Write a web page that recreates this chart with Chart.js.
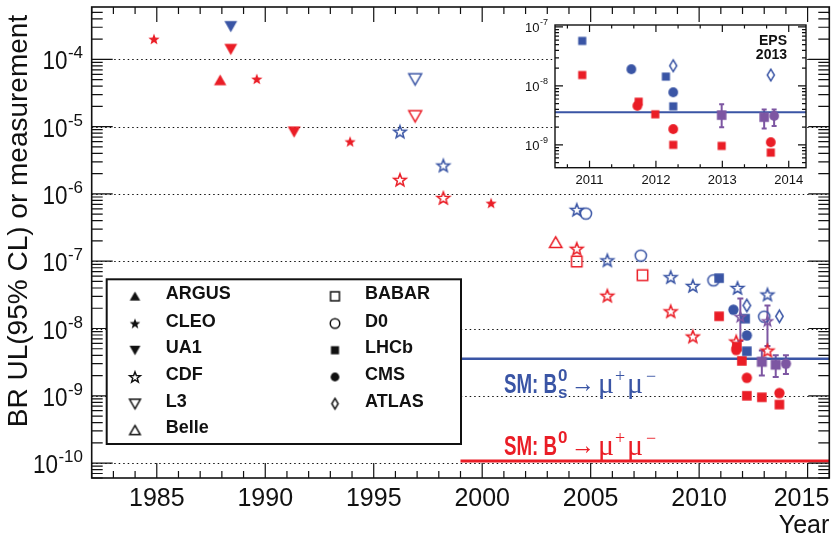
<!DOCTYPE html>
<html>
<head>
<meta charset="utf-8">
<script src="https://cdn.jsdelivr.net/npm/chart.js@4.4.0/dist/chart.umd.min.js"></script>
<style>
  html, body { margin: 0; padding: 0; background: #fff; }
  #wrap { position: relative; width: 838px; height: 540px; }
  #main { position: absolute; left: 0; top: 0; }
  #inset { position: absolute; left: 500px; top: 10px; }
</style>
</head>
<body>
<div id="wrap">
  <canvas id="main" width="838" height="540" style="width:838px;height:540px"></canvas>
  <canvas id="inset" width="320" height="190" style="width:320px;height:190px"></canvas>
</div>
<script>
// ---- upper limits, [year, BR]; Bs -> mu mu in blue, B0 -> mu mu in red ----
const ARGUS_B0 = [[1987.92, 4.9e-5]];
const CLEO_B0 = [[1984.87, 2.0e-4], [1989.61, 5.1e-5], [1993.91, 6.0e-6], [2000.41, 7.3e-7]];
const UA1_BS = [[1988.41, 3.1e-4]];
const UA1_B0 = [[1988.41, 1.42e-4], [1991.33, 8.4e-6]];
const CDF_BS = [[1996.21, 8.4e-6], [1998.21, 2.64e-6], [2004.36, 5.8e-7], [2005.77, 1.03e-7],
                [2008.69, 5.8e-8], [2009.71, 4.3e-8], [2011.77, 4.0e-8], [2013.15, 3.2e-8]];
const CDF_B0 = [[1996.21, 1.62e-6], [1998.21, 8.7e-7], [2004.36, 1.53e-7], [2005.77, 3.07e-8],
                [2008.69, 1.8e-8], [2009.71, 7.6e-9], [2011.71, 6.4e-9], [2013.15, 4.7e-9]];
const L3_BS = [[1996.91, 5.1e-5]];
const L3_B0 = [[1996.91, 1.44e-5]];
const BELLE_B0 = [[2003.39, 1.9e-7]];
const BABAR_B0 = [[2004.36, 9.9e-8], [2007.39, 6.2e-8]];
const D0_BS = [[2004.78, 5.1e-7], [2007.31, 1.21e-7], [2010.66, 5.2e-8], [2013.0, 1.5e-8]];
const LHCB_BS = [[2010.92, 5.6e-8], [2012.12, 1.4e-8], [2012.2, 4.6e-9]];
const LHCB_B0 = [[2010.92, 1.52e-8], [2011.74, 5.4e-9], [2011.97, 3.3e-9], [2012.2, 1.0e-9],
                 [2012.89, 9.5e-10], [2013.7, 7.4e-10]];
const CMS_BS = [[2011.58, 1.9e-8], [2012.2, 7.9e-9]];
const CMS_B0 = [[2011.71, 4.8e-9], [2012.2, 1.85e-9], [2013.7, 1.1e-9]];
const ATLAS_BS = [[2012.2, 2.2e-8], [2013.7, 1.52e-8]];

// ---- Bs measurements, [year, central, low, high] ----
const CDF_BS_MEAS = [[2011.9, 1.5e-8, 6.5e-9, 2.8e-8], [2013.15, 1.3e-8, 5.5e-9, 2.2e-8]];
const LHCB_BS_MEAS = [[2012.89, 3.2e-9, 2.0e-9, 4.7e-9], [2013.53, 2.9e-9, 1.9e-9, 4.0e-9]];
const CMS_BS_MEAS = [[2014.0, 3.0e-9, 2.1e-9, 4.0e-9]];

// ---- Standard Model predictions ----
const SM_BS = 3.56e-9;
const SM_B0 = 1.07e-10;
const SM_FROM = 1999;

// ---- inset: LHC era close-up ----
const IN_LHCB_BS = [[2010.89, 5.8e-8], [2012.15, 1.44e-8], [2012.26, 4.5e-9]];
const IN_LHCB_B0 = [[2010.89, 1.53e-8], [2011.74, 5.4e-9], [2011.99, 3.3e-9], [2012.26, 1.0e-9],
                    [2012.99, 9.6e-10], [2013.73, 7.4e-10]];
const IN_CMS_BS = [[2011.63, 1.92e-8], [2012.26, 7.8e-9]];
const IN_CMS_B0 = [[2011.72, 4.6e-9], [2012.26, 1.85e-9], [2013.73, 1.11e-9]];
const IN_ATLAS_BS = [[2012.26, 2.2e-8], [2013.73, 1.53e-8]];
const IN_LHCB_MEAS = [[2012.99, 3.2e-9, 2.0e-9, 4.9e-9], [2013.63, 2.95e-9, 1.9e-9, 4.0e-9]];
const IN_CMS_MEAS = [[2013.78, 3.1e-9, 2.1e-9, 4.0e-9]];

// ---- axes ----
const YEAR_MIN = 1982, YEAR_MAX = 2016;
const BR_MIN = 6.0e-11, BR_MAX = 6.0e-4;
const YEAR_LABELS = [1985, 1990, 1995, 2000, 2005, 2010, 2015];
const DECADES = [-10, -9, -8, -7, -6, -5, -4];
const IN_YEAR_MIN = 2010.48, IN_YEAR_MAX = 2014.26;
const IN_BR_MIN = 4.1e-10, IN_BR_MAX = 1.08e-7;
const IN_YEAR_LABELS = [2011, 2012, 2013, 2014];
const IN_DECADES = [-9, -8, -7];

const LEGEND_LEFT = ['ARGUS', 'CLEO', 'UA1', 'CDF', 'L3', 'Belle'];
const LEGEND_RIGHT = ['BABAR', 'D0', 'LHCb', 'CMS', 'ATLAS'];

const RED = '#ea1d26', BLUE = '#3a55a5', PURPLE = '#7d56a2', INK = '#111';
const SANS = "'Liberation Sans', Arial, Helvetica, sans-serif";
const SERIF = "'Liberation Serif', 'DejaVu Serif', serif";

// experiment -> [shape, filled]
const SHAPES = {
  ARGUS: ['up', true], CLEO: ['star', true], UA1: ['down', true], CDF: ['star', false],
  L3: ['down', false], Belle: ['up', false], BABAR: ['square', false], D0: ['circle', false],
  LHCb: ['square', true], CMS: ['circle', true], ATLAS: ['diamond', false],
};
const SIZES = { up: 6.2, down: 6.4, star: 6.6, square: 5.2, circle: 5.6, diamond: 6.2 };

function tracePath(g, shape, r) {
  g.beginPath();
  if (shape === 'up' || shape === 'down') {
    const s = shape === 'up' ? 1 : -1;
    g.moveTo(0, -0.92 * r * s);
    g.lineTo(r, 0.82 * r * s);
    g.lineTo(-r, 0.82 * r * s);
  } else if (shape === 'star') {
    for (let i = 0; i < 10; i++) {
      const rr = i % 2 ? r * 0.42 : r;
      const ang = -Math.PI / 2 + i * Math.PI / 5;
      g.lineTo(rr * Math.cos(ang), rr * Math.sin(ang) + 0.5);
    }
  } else if (shape === 'square') {
    g.rect(-r, -r, 2 * r, 2 * r);
  } else if (shape === 'circle') {
    g.arc(0, 0, r, 0, 2 * Math.PI);
  } else if (shape === 'diamond') {
    g.moveTo(0, -r); g.lineTo(0.6 * r, 0); g.lineTo(0, r); g.lineTo(-0.6 * r, 0);
  }
  g.closePath();
}

// point style bitmaps
function marker(name, color, scale) {
  const [shape, filled] = SHAPES[name];
  let r = SIZES[shape] * (scale || 1);
  if (filled && (shape === 'square' || shape === 'circle')) r *= 0.92;
  const size = Math.ceil(2 * r + 6);
  const c = document.createElement('canvas');
  c.width = size; c.height = size;
  const g = c.getContext('2d');
  g.translate(size / 2, size / 2);
  tracePath(g, shape, r);
  if (filled) { g.fillStyle = color; g.fill(); }
  else { g.strokeStyle = color; g.lineWidth = 1.5; g.lineJoin = 'miter'; g.stroke(); }
  return c;
}

const pts = arr => arr.map(p => ({ x: p[0], y: p[1], lo: p[2], hi: p[3] }));
function pset(arr, name, color, scale) {
  return { data: pts(arr), pointStyle: marker(name, color, scale), pointRadius: 6, showLine: false };
}
function smLine(val, from, to, color, width) {
  return { data: [{ x: from, y: val }, { x: to, y: val }], showLine: true, pointRadius: 0,
           borderColor: color, borderWidth: width, order: 10 };
}

function logTicks(min, max, majLen, minLen) {
  const out = [];
  for (let d = Math.floor(Math.log10(min)); d <= Math.ceil(Math.log10(max)); d++) {
    for (let k = 1; k <= 9; k++) {
      const v = k * Math.pow(10, d);
      if (v >= min && v <= max) out.push({ v, len: k === 1 ? majLen : minLen });
    }
  }
  return out;
}

function frameAndTicks(ctx, a, xs, ys, xTicks, yTicks, width) {
  ctx.save();
  ctx.strokeStyle = INK; ctx.lineWidth = 1.2; ctx.setLineDash([]);
  ctx.beginPath();
  xTicks.forEach(t => {
    const px = xs.getPixelForValue(t.v);
    ctx.moveTo(px, a.bottom); ctx.lineTo(px, a.bottom - t.len);
    ctx.moveTo(px, a.top); ctx.lineTo(px, a.top + t.len);
  });
  yTicks.forEach(t => {
    const py = ys.getPixelForValue(t.v);
    ctx.moveTo(a.left, py); ctx.lineTo(a.left + t.len, py);
    ctx.moveTo(a.right, py); ctx.lineTo(a.right - t.len, py);
  });
  ctx.stroke();
  ctx.lineWidth = width;
  ctx.strokeRect(a.left, a.top, a.right - a.left, a.bottom - a.top);
  ctx.restore();
}

function errorBars(chart, cap) {
  const ctx = chart.ctx, ys = chart.scales.y;
  chart.data.datasets.forEach((ds, i) => {
    if (!ds.errors) return;
    const meta = chart.getDatasetMeta(i);
    ctx.save();
    ctx.strokeStyle = PURPLE; ctx.lineWidth = 2;
    meta.data.forEach((el, j) => {
      const raw = ds.data[j];
      const top = ys.getPixelForValue(raw.hi), bot = ys.getPixelForValue(raw.lo);
      ctx.beginPath();
      ctx.moveTo(el.x, top); ctx.lineTo(el.x, bot);
      ctx.moveTo(el.x - cap, top); ctx.lineTo(el.x + cap, top);
      ctx.moveTo(el.x - cap, bot); ctx.lineTo(el.x + cap, bot);
      ctx.stroke();
    });
    ctx.restore();
  });
}

// "10^n" label, right aligned at xr
function powerLabel(ctx, n, xr, y, baseFont, supFont, baseDy, supDy, baseW) {
  const e = String(n);
  ctx.textAlign = 'left'; ctx.textBaseline = 'alphabetic';
  ctx.font = supFont;
  const ew = ctx.measureText(e).width;
  ctx.fillText(e, xr - ew, y + supDy);
  ctx.font = baseFont;
  const bw = Math.min(baseW || 1e9, ctx.measureText('10').width);
  ctx.fillText('10', xr - ew - bw - 0.5, y + baseDy, bw);
}

// runs of text: {t, font, x, dy, w}
function richText(ctx, runs, x0, y, color) {
  let x = x0;
  ctx.fillStyle = color; ctx.textAlign = 'left'; ctx.textBaseline = 'alphabetic';
  runs.forEach(r => {
    ctx.font = r.font;
    const px = r.x !== undefined ? r.x : x;
    const w = r.w ? Math.min(r.w, ctx.measureText(r.t).width) : ctx.measureText(r.t).width;
    if (r.w) ctx.fillText(r.t, px, y + (r.dy || 0), r.w); else ctx.fillText(r.t, px, y + (r.dy || 0));
    x = px + w;
  });
}

function smLabel(ctx, y, color, sub) {
  const runs = [
    { t: 'SM: B', font: `bold 27px ${SANS}`, x: 504, w: 53 },
    { t: '0', font: `bold 17px ${SANS}`, x: 558, dy: -12 },
  ];
  if (sub) runs.push({ t: 's', font: `bold 17px ${SANS}`, x: 558, dy: 5 });
  runs.push(
    { t: '\u2192', font: `26px ${SERIF}`, x: 571, w: 24, dy: -1 },
    { t: '\u03bc', font: `30px ${SERIF}`, x: 598 },
    { t: '+', font: `18px ${SERIF}`, x: 615, dy: -11 },
    { t: '\u03bc', font: `30px ${SERIF}`, x: 627 },
    { t: '\u2212', font: `18px ${SERIF}`, x: 646, dy: -11 },
  );
  richText(ctx, runs, 504, y, color);
}

function drawLegend(ctx) {
  const L = 106.7, T = 279.3, R = 461, B = 444;
  ctx.save();
  ctx.fillStyle = '#fff';
  ctx.fillRect(L, T, R - L, B - T);
  ctx.strokeStyle = INK; ctx.lineWidth = 2;
  ctx.strokeRect(L, T, R - L, B - T);
  const rows = [299.3, 326.5, 353.2, 380, 406.7, 433.3];
  ctx.font = `bold 18px ${SANS}`; ctx.fillStyle = INK; ctx.textBaseline = 'alphabetic'; ctx.textAlign = 'left';
  const put = (names, mx, tx) => names.forEach((n, i) => {
    const img = marker(n, INK, 0.85);
    ctx.drawImage(img, mx - img.width / 2, rows[i] - 3 - img.height / 2);
    ctx.fillText(n, tx, rows[i]);
  });
  put(LEGEND_LEFT, 135, 165.7);
  put(LEGEND_RIGHT, 335, 365);
  ctx.restore();
}

const mainDecor = {
  id: 'mainDecor',
  beforeDatasetsDraw(chart) {
    const { ctx, chartArea: a, scales: { y } } = chart;
    ctx.save();
    ctx.strokeStyle = INK; ctx.lineWidth = 1.2; ctx.setLineDash([1.5, 3]);
    DECADES.forEach(d => {
      const py = Math.round(y.getPixelForValue(Math.pow(10, d))) + 0.5;
      ctx.beginPath(); ctx.moveTo(a.left, py); ctx.lineTo(a.right, py); ctx.stroke();
    });
    ctx.restore();
    errorBars(chart, 3);
  },
  afterDatasetsDraw(chart) {
    const { ctx, chartArea: a, scales: { x, y } } = chart;
    const xt = [];
    for (let yr = YEAR_MIN; yr <= YEAR_MAX; yr++) xt.push({ v: yr, len: yr % 5 === 0 ? 15 : 7 });
    frameAndTicks(ctx, a, x, y, xt, logTicks(BR_MIN, BR_MAX, 21, 11), 1.6);

    ctx.save();
    ctx.fillStyle = INK;
    ctx.font = `25px ${SANS}`; ctx.textBaseline = 'alphabetic'; ctx.textAlign = 'center';
    YEAR_LABELS.forEach(yr => {
      const w = Math.min(56, ctx.measureText(String(yr)).width);
      const cx = Math.min(x.getPixelForValue(yr), a.right - w / 2);
      ctx.fillText(String(yr), cx, 505.5, 56);
    });
    ctx.textAlign = 'right';
    ctx.fillText('Year', a.right, 533);
    DECADES.forEach(d => powerLabel(ctx, d, 83, y.getPixelForValue(Math.pow(10, d)),
      `25px ${SANS}`, `17px ${SANS}`, 10, -1, 25));

    ctx.save();
    ctx.translate(26.7, 221);
    ctx.rotate(-Math.PI / 2);
    ctx.textAlign = 'center';
    ctx.font = `28px ${SANS}`;
    ctx.fillText('BR UL(95% CL) or measurement', 0, 0, 428);
    ctx.restore();

    smLabel(ctx, 392.7, BLUE, true);
    smLabel(ctx, 455, RED, false);
    ctx.restore();
    drawLegend(ctx);
  },
};

const measSet = (arr, name, scale) => Object.assign(pset(arr, name, PURPLE, scale), { errors: true });

new Chart(document.getElementById('main'), {
  type: 'scatter',
  data: {
    datasets: [
      measSet(LHCB_BS_MEAS, 'LHCb', 1.05),
      measSet(CMS_BS_MEAS, 'CMS', 1.0),
      measSet(CDF_BS_MEAS, 'CDF', 0.8),
      pset(ARGUS_B0, 'ARGUS', RED),
      pset(CLEO_B0, 'CLEO', RED, 0.9),
      pset(UA1_BS, 'UA1', BLUE),
      pset(UA1_B0, 'UA1', RED),
      pset(L3_BS, 'L3', BLUE),
      pset(L3_B0, 'L3', RED),
      pset(BELLE_B0, 'Belle', RED),
      pset(BABAR_B0, 'BABAR', RED),
      pset(LHCB_BS, 'LHCb', BLUE),
      pset(LHCB_B0, 'LHCb', RED),
      pset(CMS_BS, 'CMS', BLUE),
      pset(CMS_B0, 'CMS', RED),
      pset(D0_BS, 'D0', BLUE),
      pset(ATLAS_BS, 'ATLAS', BLUE),
      pset(CDF_BS, 'CDF', BLUE),
      pset(CDF_B0, 'CDF', RED),
      smLine(SM_BS, SM_FROM, YEAR_MAX, BLUE, 2.4),
      smLine(SM_B0, SM_FROM, YEAR_MAX, RED, 3),
    ],
  },
  options: {
    responsive: false,
    animation: false,
    events: [],
    layout: { padding: { left: 91.7, top: 6.7, right: 8.7, bottom: 62 } },
    plugins: { legend: { display: false }, tooltip: { enabled: false } },
    scales: {
      x: { type: 'linear', min: YEAR_MIN, max: YEAR_MAX, bounds: 'data', display: false },
      y: { type: 'logarithmic', min: BR_MIN, max: BR_MAX, bounds: 'data', display: false },
    },
  },
  plugins: [mainDecor],
});

const insetDecor = {
  id: 'insetDecor',
  beforeDatasetsDraw(chart) {
    const { ctx, chartArea: a } = chart;
    ctx.save();
    ctx.fillStyle = '#fff';
    ctx.fillRect(a.left, a.top, a.right - a.left, a.bottom - a.top);
    ctx.restore();
    errorBars(chart, 2.5);
  },
  afterDatasetsDraw(chart) {
    const { ctx, chartArea: a, scales: { x, y } } = chart;
    const xt = [];
    for (let k = Math.ceil(IN_YEAR_MIN * 3); k <= Math.floor(IN_YEAR_MAX * 3); k++) {
      xt.push({ v: k / 3, len: k % 3 === 0 ? 7 : 3.5 });
    }
    frameAndTicks(ctx, a, x, y, xt, logTicks(IN_BR_MIN, IN_BR_MAX, 8, 4), 1.4);
    ctx.save();
    ctx.fillStyle = INK;
    ctx.font = `13px ${SANS}`; ctx.textAlign = 'center'; ctx.textBaseline = 'alphabetic';
    IN_YEAR_LABELS.forEach(yr => ctx.fillText(String(yr), x.getPixelForValue(yr), 173.5));
    IN_DECADES.forEach(d => powerLabel(ctx, d, 48, y.getPixelForValue(Math.pow(10, d)),
      `13px ${SANS}`, `9px ${SANS}`, 5, -1.5));
    ctx.font = `bold 14px ${SANS}`; ctx.textAlign = 'right';
    ctx.fillText('EPS', 287, 35);
    ctx.fillText('2013', 287, 49);
    ctx.restore();
  },
};

new Chart(document.getElementById('inset'), {
  type: 'scatter',
  data: {
    datasets: [
      measSet(IN_LHCB_MEAS, 'LHCb', 1.0),
      measSet(IN_CMS_MEAS, 'CMS', 0.95),
      pset(IN_LHCB_BS, 'LHCb', BLUE, 0.85),
      pset(IN_LHCB_B0, 'LHCb', RED, 0.85),
      pset(IN_CMS_BS, 'CMS', BLUE, 0.95),
      pset(IN_CMS_B0, 'CMS', RED, 0.95),
      pset(IN_ATLAS_BS, 'ATLAS', BLUE, 0.95),
      smLine(SM_BS, IN_YEAR_MIN, IN_YEAR_MAX, BLUE, 2),
    ],
  },
  options: {
    responsive: false,
    animation: false,
    events: [],
    layout: { padding: { left: 55, top: 15, right: 14, bottom: 32.3 } },
    plugins: { legend: { display: false }, tooltip: { enabled: false } },
    scales: {
      x: { type: 'linear', min: IN_YEAR_MIN, max: IN_YEAR_MAX, bounds: 'data', display: false },
      y: { type: 'logarithmic', min: IN_BR_MIN, max: IN_BR_MAX, bounds: 'data', display: false },
    },
  },
  plugins: [insetDecor],
});
</script>
</body>
</html>
